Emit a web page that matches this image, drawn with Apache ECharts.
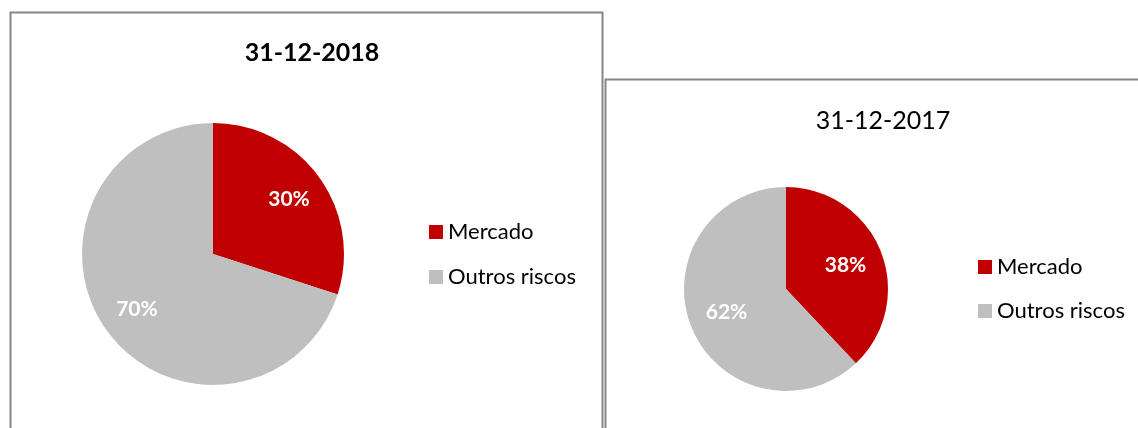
<!DOCTYPE html>
<html>
<head>
<meta charset="utf-8">
<script src="https://cdn.jsdelivr.net/npm/echarts@6/dist/echarts.min.js"></script>
<style>
  html, body { margin: 0; padding: 0; background: #fff; }
  #chart { width: 1138px; height: 428px; }
</style>
</head>
<body>
<div id="chart"></div>
<script>
// dados
const categories = ['Mercado', 'Outros riscos']
const values2018 = [30, 70]
const values2017 = [38, 62]
const titles = ['31-12-2018', '31-12-2017']
const colors = ['#C00000', '#BFBFBF']

const font = 'Lato, "Open Sans", sans-serif'

function pieData(vals) {
    return categories.map((name, i) => ({ name: name, value: vals[i] }))
}

// serie principal (fatias) + serie transparente só para posicionar os rótulos
function pieSeries(vals, center, radius, labelRadius) {
    return [
        {
            type: 'pie',
            center: center,
            radius: radius,
            startAngle: 90,
            clockwise: true,
            silent: true,
            label: { show: false },
            labelLine: { show: false },
            data: pieData(vals)
        },
        {
            type: 'pie',
            center: center,
            radius: labelRadius,
            startAngle: 90,
            clockwise: true,
            silent: true,
            itemStyle: { color: 'transparent' },
            label: {
                show: true,
                position: 'inside',
                formatter: '{c}%',
                color: '#fff',
                fontSize: 21,
                fontWeight: 'bold',
                fontFamily: font
            },
            labelLine: { show: false },
            data: pieData(vals)
        }
    ]
}

let myChart = echarts.init(document.getElementById('chart'), null, { renderer: 'canvas' })
let option = {
    animation: false,
    color: colors,
    graphic: [
        { type: 'rect', shape: { x: 10.5, y: 12.5, width: 592, height: 440 },
          style: { fill: 'none', stroke: '#868686', lineWidth: 2 } },
        { type: 'rect', shape: { x: 605.5, y: 79.5, width: 600, height: 400 },
          style: { fill: 'none', stroke: '#868686', lineWidth: 2 } }
    ],
    title: [
        { text: titles[0], left: 307, top: 35, textAlign: 'center',
          textStyle: { fontSize: 25, fontWeight: 'bold', color: '#000', fontFamily: font } },
        { text: titles[1], left: 878, top: 103, textAlign: 'center',
          textStyle: { fontSize: 25, fontWeight: 'normal', color: '#000', fontFamily: font } }
    ],
    legend: [
        { orient: 'vertical', left: 424, top: 216, itemWidth: 14, itemHeight: 14, itemGap: 23,
          icon: 'rect', data: categories,
          textStyle: { fontSize: 22, color: '#000', fontFamily: font } },
        { orient: 'vertical', left: 973, top: 251, itemWidth: 14, itemHeight: 14, itemGap: 22,
          icon: 'rect', data: categories,
          textStyle: { fontSize: 22, color: '#000', fontFamily: font } }
    ],
    series: [
        ...pieSeries(values2018, [213, 254], 131, 182),
        ...pieSeries(values2017, [786, 289], 102, 122)
    ]
}
myChart.setOption(option)
</script>
</body>
</html>
